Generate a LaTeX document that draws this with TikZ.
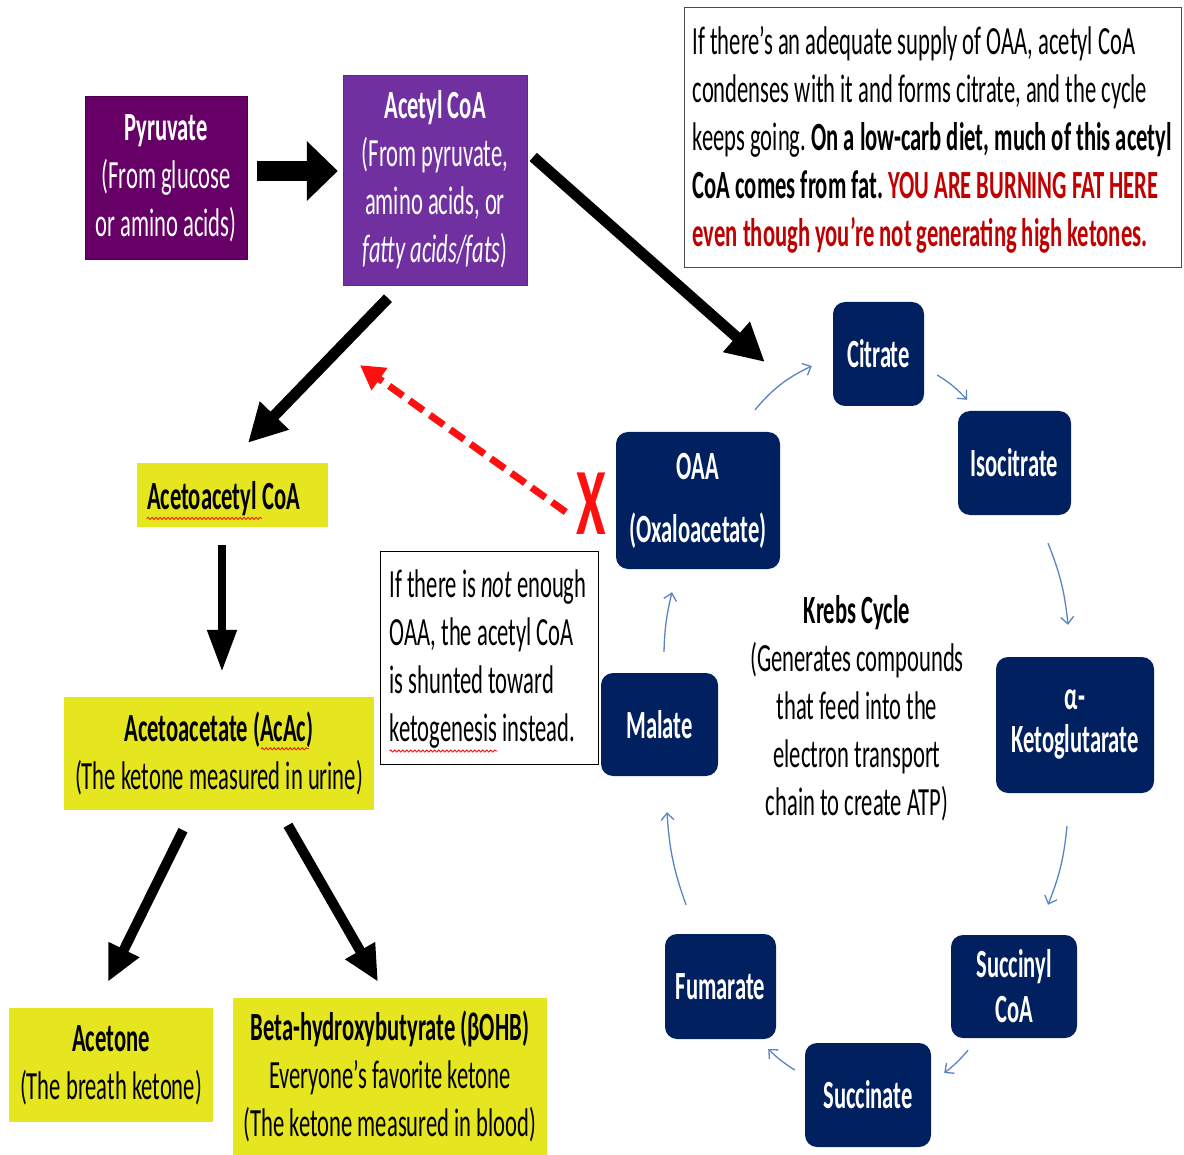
\documentclass[tikz,border=0pt]{standalone}
\usepackage{fontspec}
\setmainfont{Carlito}[FakeStretch=0.565]
\usetikzlibrary{arrows.meta,calc,decorations.pathmorphing}
\definecolor{pyrc}{HTML}{660066}
\definecolor{acetc}{HTML}{7030A0}
\definecolor{kyel}{HTML}{E6E620}
\definecolor{knavy}{HTML}{002060}
\definecolor{dred}{HTML}{C00000}
\definecolor{bred}{HTML}{FF1010}
\definecolor{cblue}{HTML}{5B84C4}
\newcommand\fs{\fontsize{40}{48}\selectfont}
\frenchspacing
\begin{document}
\begin{tikzpicture}[x=1pt,y=-1pt,
  base/.style={inner sep=0pt, align=center, font=\fs},
  purpbox/.style={base, text=white},
  ybox/.style={base, fill=kyel},
  navybox/.style={base, fill=knavy, rounded corners=12pt, text=white, font=\fs\bfseries},
  plaintext/.style={inner sep=0pt, align=left, font=\fs, anchor=west},
  fatarrow/.style={line width=11pt, -{Triangle[length=38pt,width=38pt]}},
  cyc/.style={draw=cblue, line width=1.3pt, -{Straight Barb[length=7pt,width=13pt]}},
  wavy/.style={draw=red, line width=0.8pt, decorate, decoration={snake, segment length=4pt, amplitude=1.1pt}}]
\useasboundingbox (0,0) rectangle (1184,1155);
\fill[white] (0,0) rectangle (1184,1155);

% top row
\node[purpbox, fill=pyrc, draw=pyrc!75!black, minimum width=162pt, minimum height=163pt] (pyr) at (166,178)
  {\textbf{Pyruvate}\\(From glucose\\or amino acids)};
\node[purpbox, fill=acetc, draw=acetc!85!black, minimum width=184pt, minimum height=210pt] (acetyl) at (435,180)
  {\textbf{Acetyl CoA}\\(From pyruvate,\\amino acids, or\\\textit{fatty acids/fats})};

% top right explanation
\node[draw=black!70, line width=1pt, minimum width=497pt, minimum height=260pt, inner sep=0pt] (topbox) at (932.5,138) {};
\node[plaintext] (toptext) at ($(topbox.west)+(9,2)$)
  {If there’s an adequate supply of OAA, acetyl CoA\\
   condenses with it and forms citrate, and the cycle\\
   keeps going. \textbf{On a low-carb diet, much of this acetyl}\\
   \textbf{CoA comes from fat. \textcolor{dred}{YOU ARE BURNING FAT HERE}}\\
   \textbf{\textcolor{dred}{even though you’re not generating high ketones.}}};

% ketone side
\node[ybox, minimum width=191pt, minimum height=64pt] (acoa) at (232.5,495) {};
\node[plaintext, font=\fs\bfseries] (acoatext) at ($(acoa.west)+(10,4)$) {Acetoacetyl CoA};
\node[ybox, minimum width=310pt, minimum height=113pt] (acac) at (219,753.5)
  {\textbf{Acetoacetate (AcAc)}\\(The ketone measured in urine)};
\node[ybox, minimum width=204pt, minimum height=114pt] (acetone) at (111,1065)
  {\textbf{Acetone}\\(The breath ketone)};
\node[ybox, minimum width=314pt, minimum height=157pt] (bohb) at (390,1076.5)
  {\textbf{Beta-hydroxybutyrate (βOHB)}\\Everyone’s favorite ketone\\(The ketone measured in blood)};

% note box
\node[draw=black, line width=1pt, minimum width=218pt, minimum height=213pt, inner sep=0pt] (note) at (489,657.5) {};
\node[plaintext] (notetext) at ($(note.west)+(10,2)$)
  {If there is \textit{not} enough\\OAA, the acetyl CoA\\is shunted toward\\ketogenesis instead.};

% Krebs cycle
\node[navybox, minimum width=91pt, minimum height=104pt] (citrate) at (878.5,354) {Citrate};
\node[navybox, minimum width=113pt, minimum height=104pt] (iso) at (1014.5,463) {Isocitrate};
\node[navybox, minimum width=158pt, minimum height=136pt] (akg) at (1075,725) {α-\\[-5pt]Ketoglutarate};
\node[navybox, minimum width=126pt, minimum height=103pt] (succoa) at (1014,986.5) {Succinyl\\[-3pt]CoA};
\node[navybox, minimum width=126pt, minimum height=104pt] (succ) at (868,1095) {Succinate};
\node[navybox, minimum width=111pt, minimum height=105pt] (fum) at (720.5,986.5) {Fumarate};
\node[navybox, minimum width=117pt, minimum height=103pt] (mal) at (659.5,724.5) {Malate};
\node[navybox, minimum width=164pt, minimum height=137pt] (oaa) at (698,500.5) {OAA\\[15pt](Oxaloacetate)};
\node[base] (krebs) at (857,708)
  {\textbf{Krebs Cycle}\\(Generates compounds\\that feed into the\\electron transport\\chain to create ATP)};

\node[inner sep=0pt, text=bred, font=\fontsize{95}{95}\selectfont\bfseries] (xmark) at (591,504) {X};

% black arrows
\draw[line width=20pt, -{Triangle[length=31pt,width=58pt]}] ($(pyr.east)+(10,-7)$) -- ($(acetyl.west)+(-5,-9)$);
\draw[fatarrow] ($(acetyl.east)+(6,-23)$) -- ($(citrate.west)+(-68,8)$);
\draw[fatarrow] ($(acetyl.south)+(-47,13)$) -- ($(acoa.north)+(15.5,-20)$);
\draw[line width=8pt, -{Triangle[length=42pt,width=28pt]}] ($(acoa.south)+(-10.5,18)$) -- ($(acac.north)+(3,-25)$);
\draw[line width=10pt, -{Triangle[length=36pt,width=32pt]}] ($(acac.south)+(-36,20)$) -- ($(acetone.north)+(-3,-26)$);
\draw[line width=10pt, -{Triangle[length=36pt,width=32pt]}] ($(acac.south)+(69,15)$) -- ($(bohb.north)+(-12,-16)$);

% red dashed arrow
\draw[draw=bred, line width=7pt, dash pattern=on 17pt off 8pt, -{Triangle[length=24pt,width=26pt]}, bred]
  ($(oaa.west)+(-50,11.5)$) -- ($(acetyl.south)+(-75,80)$);

% cycle arrows
\draw[cyc] ($(oaa.north)+(57,-22)$) to[bend left=12] ($(citrate.west)+(-21,12)$);
\draw[cyc] ($(citrate.east)+(13,21)$) to[bend left=8] ($(iso.north)+(-47.5,-11)$);
\draw[cyc] ($(iso.south)+(33.5,28)$) to[bend left=8] ($(akg.north)+(-7,-32)$);
\draw[cyc] ($(akg.south)+(-8,33)$) to[bend left=8] ($(succoa.north)+(34,-30)$);
\draw[cyc] ($(succoa.south)+(-46,12)$) to[bend left=6] ($(succ.east)+(13,-22)$);
\draw[cyc] ($(succ.west)+(-10,-25)$) to[bend left=6] ($(fum.east)+(-8,62.5)$);
\draw[cyc] ($(fum.north)+(-34.5,-29)$) to[bend left=8] ($(mal.south)+(7.5,36)$);
\draw[cyc] ($(mal.north)+(4.5,-21)$) to[bend left=6] ($(oaa.south)+(-26,23)$);

% spell-check underlines
\draw[wavy] ($(acoatext.south west)+(0,2)$) -- ++(115,0);
\draw[wavy] ($(acac.north)+(42,52)$) -- ++(48,0);
\draw[wavy] ($(notetext.south west)+(0,2)$) -- ++(108,0);
\end{tikzpicture}
\end{document}
